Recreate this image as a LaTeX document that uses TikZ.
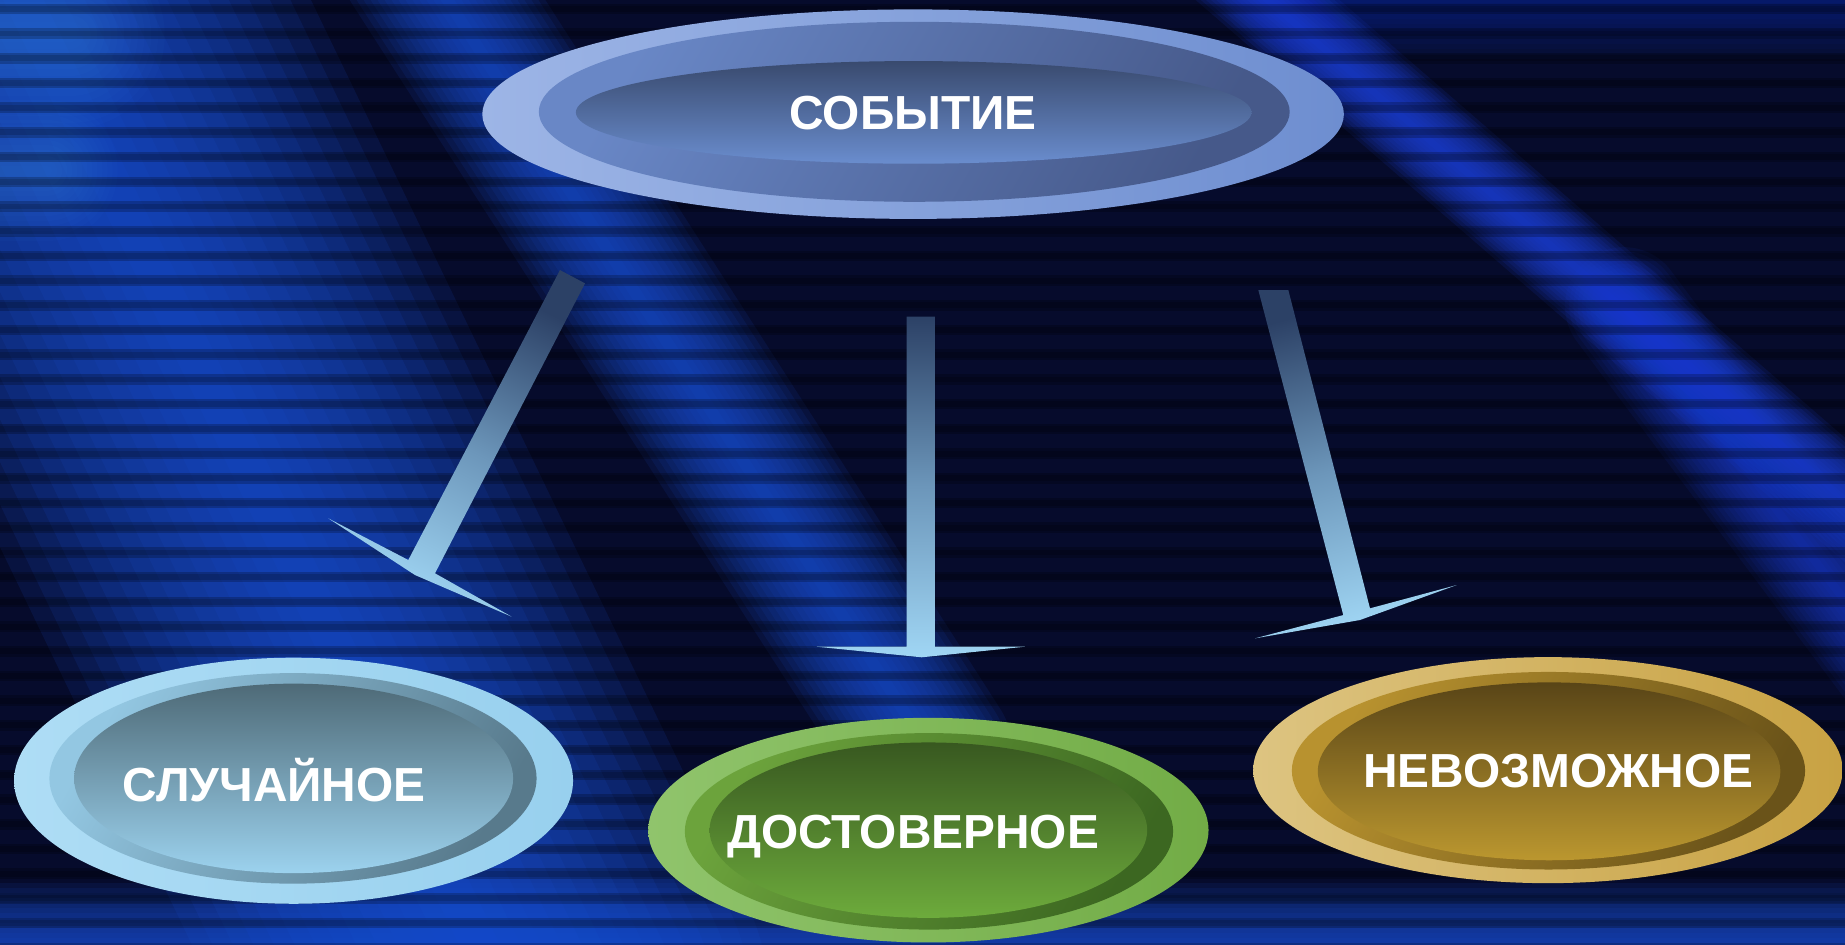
\documentclass[tikz,border=0pt]{standalone}
\usepackage{fontspec}
\setmainfont{Liberation Sans}
\usetikzlibrary{shapes.geometric}
\definecolor{bgnavy}{HTML}{060B2C}
\definecolor{bgblue}{HTML}{1A50D4}
\definecolor{bglight}{HTML}{3A8EEA}
\definecolor{bgband}{HTML}{1D40D8}
\definecolor{arrtop}{HTML}{2C4166}
\definecolor{arrmid}{HTML}{6C96BA}
\definecolor{arrbot}{HTML}{A0D6F4}
\definecolor{topout1}{HTML}{9DB5E6}\definecolor{topout2}{HTML}{6E8ED0}
\definecolor{topmid1}{HTML}{6987C6}\definecolor{topmid2}{HTML}{46598A}
\definecolor{topin1}{HTML}{394A6E}\definecolor{topin2}{HTML}{6A8DCE}
\definecolor{lbout1}{HTML}{AEDDF5}\definecolor{lbout2}{HTML}{98D0EE}
\definecolor{lbmid1}{HTML}{93C7E2}\definecolor{lbmid2}{HTML}{587A8C}
\definecolor{lbin1}{HTML}{4E6A77}\definecolor{lbin2}{HTML}{9CD2EE}
\definecolor{grout1}{HTML}{90C46C}\definecolor{grout2}{HTML}{72AC46}
\definecolor{grmid1}{HTML}{6CA33C}\definecolor{grmid2}{HTML}{3C6721}
\definecolor{grin1}{HTML}{385820}\definecolor{grin2}{HTML}{6DAB3C}
\definecolor{goout1}{HTML}{DDC481}\definecolor{goout2}{HTML}{C8A243}
\definecolor{gomid1}{HTML}{B8922F}\definecolor{gomid2}{HTML}{6A5319}
\definecolor{goin1}{HTML}{594517}\definecolor{goin2}{HTML}{BB972F}
\newcommand\bgband[4]{%
  \foreach \bgk in {1,...,14}{\draw[#1, opacity=#3, line cap=round, line width={#2*0.03348pt*(15-\bgk)/1.4}] #4;}}
\begin{document}
\begin{tikzpicture}[x=0.011767cm, y=-0.011767cm,
  lbl/.style={text=white, font=\bfseries\fontsize{13.6}{16}\selectfont, inner sep=0pt, anchor=base},
  ell/.style={ellipse, inner sep=0pt, outer sep=0pt, draw=none},
  arrowfill/.style={draw=none, top color=arrtop, bottom color=arrbot, middle color=arrmid}]
\useasboundingbox (0,0) rectangle (1568,803);
% background
\fill[bgnavy] (0,0) rectangle (1568,803);
\begin{scope}
\clip (0,0) rectangle (1568,803);
\bgband{bgblue}{440}{0.12}{(-9,-60) -- (435,860)}
\bgband{bglight}{160}{0.035}{(-80,30) -- (60,30)}
\bgband{bglight}{120}{0.035}{(-80,145) -- (40,145)}
\bgband{bgblue}{140}{0.10}{(329,-80) -- (791,640)}
\bgband{bgband}{80}{0.12}{(1008,-60) -- (1650,496)}
\bgband{bgband}{100}{0.08}{(1380,260) -- (1650,620)}
\bgband{bgblue}{120}{0.10}{(-60,810) -- (1650,810)}
\bgband{bgband}{120}{0.04}{(1100,-10) -- (1650,-10)}
\foreach \yy in {3,24,...,803} {\fill[black, opacity=0.22] (-5,\yy) rectangle (1575,\yy+9);
  \fill[black, opacity=0.15] (-5,\yy+2) rectangle (1575,\yy+7);}
\end{scope}
% arrows
\shade[arrowfill, shading angle=-26] (475.9,229.5) -- (497.2,240.8) -- (369.7,487.2) -- (434.9,524.1) -- (352.7,488.7) -- (279.0,440.5) -- (347.0,475.9) -- cycle;
\shade[arrowfill] (770.5,269.1) -- (794.6,269.1) -- (794.6,549.6) -- (871.1,549.6) -- (783.3,558.6) -- (694.1,549.6) -- (770.5,549.6) -- cycle;
\shade[arrowfill, shading angle=15] (1069.4,246.5) -- (1094.9,246.5) -- (1164.3,517.0) -- (1238.0,497.2) -- (1155.8,526.9) -- (1066.6,542.5) -- (1141.6,522.7) -- cycle;
% top ellipse
\node[ell, minimum width=245.1pt, minimum height=59.6pt, left color=topout1, right color=topout2] (evo) at (776,97) {};
\node[ell, minimum width=213.6pt, minimum height=51.2pt, top color=topmid1, bottom color=topmid2, shading angle=60] (evm) at (777,95) {};
\node[ell, minimum width=192.2pt, minimum height=29.2pt, top color=topin1, bottom color=topin2] (evi) at (776.5,95.5) {};
\node[lbl] (evt) at (776,110) {СОБЫТИЕ};
% left ellipse
\node[ell, minimum width=159.0pt, minimum height=70.0pt, left color=lbout1, right color=lbout2] (slo) at (249.5,663.5) {};
\node[ell, minimum width=138.6pt, minimum height=59.9pt, top color=lbmid1, bottom color=lbmid2, shading angle=60] (slm) at (249,661.5) {};
\node[ell, minimum width=124.9pt, minimum height=53.9pt, top color=lbin1, bottom color=lbin2] (sli) at (249.5,661.5) {};
\node[lbl] (slt) at (233,681) {СЛУЧАЙНОЕ};
% middle ellipse
\node[ell, minimum width=159.4pt, minimum height=63.9pt, left color=grout1, right color=grout2] (dso) at (789,705.5) {};
\node[ell, minimum width=138.9pt, minimum height=55.9pt, top color=grmid1, bottom color=grmid2, shading angle=60] (dsm) at (789.5,706.5) {};
\node[ell, minimum width=124.5pt, minimum height=49.9pt, top color=grin1, bottom color=grin2] (dsi) at (789,705.5) {};
\node[lbl] (dst) at (776,721) {ДОСТОВЕРНОЕ};
% right ellipse
\node[ell, minimum width=167.7pt, minimum height=64.3pt, left color=goout1, right color=goout2] (nvo) at (1315.5,654.5) {};
\node[ell, minimum width=146.0pt, minimum height=56.2pt, top color=gomid1, bottom color=gomid2, shading angle=60] (nvm) at (1316,655) {};
\node[ell, minimum width=131.6pt, minimum height=50.6pt, top color=goin1, bottom color=goin2] (nvi) at (1316.5,655.5) {};
\node[lbl] (nvt) at (1324.5,669) {НЕВОЗМОЖНОЕ};
\end{tikzpicture}
\end{document}
